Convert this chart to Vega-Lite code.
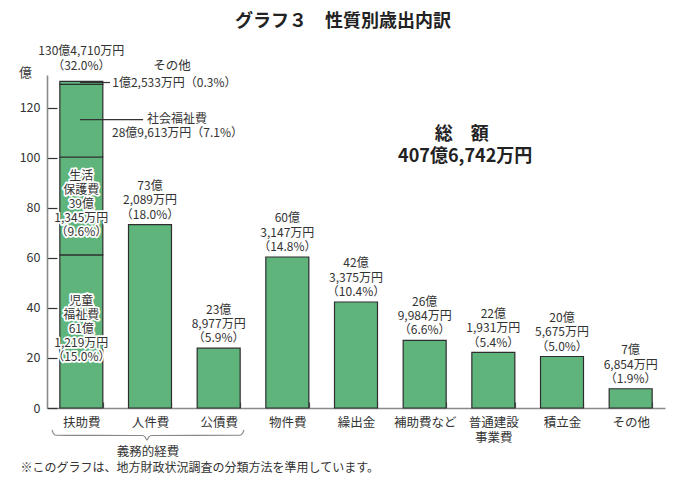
{
  "$schema": "https://vega.github.io/schema/vega-lite/v6.json",
  "width": 618,
  "height": 333,
  "autosize": {"type": "none"},
  "padding": {"left": 47, "top": 75, "right": 19, "bottom": 79},
  "background": "white",
  "config": {"font": "Noto Sans CJK JP", "view": {"stroke": null}},
  "datasets": {
    "bars": [
      {"cat": "扶助費", "seg": "児童福祉費", "ord": 1, "v": 61.1219, "inlab": "児童\n福祉費\n61億\n1,219万円\n（15.0%）"},
      {"cat": "扶助費", "seg": "生活保護費", "ord": 2, "v": 39.1345, "inlab": "生活\n保護費\n39億\n1,345万円\n（9.6%）"},
      {"cat": "扶助費", "seg": "社会福祉費", "ord": 3, "v": 28.9613, "inlab": ""},
      {"cat": "扶助費", "seg": "その他（扶助費）", "ord": 4, "v": 1.2533, "inlab": ""},
      {"cat": "人件費", "seg": "人件費", "ord": 1, "v": 73.2089, "inlab": ""},
      {"cat": "公債費", "seg": "公債費", "ord": 1, "v": 23.8977, "inlab": ""},
      {"cat": "物件費", "seg": "物件費", "ord": 1, "v": 60.3147, "inlab": ""},
      {"cat": "繰出金", "seg": "繰出金", "ord": 1, "v": 42.3375, "inlab": ""},
      {"cat": "補助費など", "seg": "補助費など", "ord": 1, "v": 26.9984, "inlab": ""},
      {"cat": "普通建設事業費", "seg": "普通建設事業費", "ord": 1, "v": 22.1931, "inlab": ""},
      {"cat": "積立金", "seg": "積立金", "ord": 1, "v": 20.5675, "inlab": ""},
      {"cat": "その他", "seg": "その他", "ord": 1, "v": 7.6854, "inlab": ""}
    ],
    "topFujo": [
      {"cat": "扶助費", "total": 130.471, "lab": "130億4,710万円\n（32.0%）"}
    ],
    "tops": [
      {"cat": "人件費", "total": 73.2089, "lab": "73億\n2,089万円\n（18.0%）"},
      {"cat": "公債費", "total": 23.8977, "lab": "23億\n8,977万円\n（5.9%）"},
      {"cat": "物件費", "total": 60.3147, "lab": "60億\n3,147万円\n（14.8%）"},
      {"cat": "繰出金", "total": 42.3375, "lab": "42億\n3,375万円\n（10.4%）"},
      {"cat": "補助費など", "total": 26.9984, "lab": "26億\n9,984万円\n（6.6%）"},
      {"cat": "普通建設事業費", "total": 22.1931, "lab": "22億\n1,931万円\n（5.4%）"},
      {"cat": "積立金", "total": 20.5675, "lab": "20億\n5,675万円\n（5.0%）"},
      {"cat": "その他", "total": 7.6854, "lab": "7億\n6,854万円\n（1.9%）"}
    ],
    "leaders": [
      {"x": 0.48, "x2": 0.917, "y": 130},
      {"x": 0.48, "x2": 1.40, "y": 115.2}
    ],
    "leftText": [
      {"x": 0.95, "y": 130, "t": "1億2,533万円（0.3%）"},
      {"x": 1.456, "y": 115.4, "t": "社会福祉費"},
      {"x": 0.947, "y": 109.8, "t": "28億9,613万円（7.1%）"}
    ],
    "midText": [
      {"x": 1.82, "y": 136.6, "t": "その他"},
      {"x": 1.47, "y": -17.6, "t": "義務的経費"}
    ],
    "boldText": [
      {"x": 6.04, "y": 109, "t": "総　額"},
      {"x": 6.09, "y": 100.2, "t": "407億6,742万円"},
      {"x": 4.31, "y": 154.2, "t": "グラフ３　性質別歳出内訳"}
    ],
    "brace": [
      {"x": 0.073, "y": -8.8},
      {"x": 0.095, "y": -10.2},
      {"x": 0.14, "y": -10.9},
      {"x": 1.39, "y": -11},
      {"x": 1.43, "y": -11.6},
      {"x": 1.456, "y": -12.8},
      {"x": 1.482, "y": -11.6},
      {"x": 1.52, "y": -11},
      {"x": 2.80, "y": -10.9},
      {"x": 2.845, "y": -10.2},
      {"x": 2.869, "y": -8.8}
    ]
  },
  "layer": [
    {
      "layer": [
        {
          "data": {"name": "bars"},
          "mark": {"type": "bar", "fill": "#5eb47b", "stroke": "#2e2e2e", "strokeWidth": 1.2, "clip": false},
          "encoding": {
            "x": {
              "field": "cat", "type": "nominal",
              "scale": {"domain": ["扶助費", "人件費", "公債費", "物件費", "繰出金", "補助費など", "普通建設事業費", "積立金", "その他"], "paddingInner": 0.374, "paddingOuter": 0.187},
              "axis": {
                "title": "※このグラフは、地方財政状況調査の分類方法を準用しています。",
                "titleX": -27, "titleY": 59, "titleAlign": "left", "titleBaseline": "middle",
                "titleFontSize": 12, "titleFontWeight": "normal", "titleColor": "#333", "titleFont": "Noto Sans CJK JP",
                "labelAngle": 0, "labelFontSize": 12.5, "labelColor": "#333", "labelPadding": 14, "labelFont": "Noto Sans CJK JP",
                "labelExpr": "datum.label == '普通建設事業費' ? ['普通建設','事業費'] : datum.label",
                "labelLineHeight": 15,
                "tickBand": "extent", "tickSize": -6, "tickColor": "#555", "tickWidth": 1.2,
                "domainColor": "#8a8a8a", "domainWidth": 1.6
              }
            },
            "y": {
              "field": "v", "type": "quantitative", "stack": "zero",
              "scale": {"domain": [0, 133]},
              "axis": {
                "title": "億", "titleAngle": 0, "titleX": -22, "titleY": -3, "titleAlign": "center", "titleBaseline": "middle",
                "titleFontSize": 13, "titleFontWeight": "normal", "titleColor": "#333", "titleFont": "Noto Sans CJK JP",
                "values": [0, 20, 40, 60, 80, 100, 120], "grid": false,
                "domainColor": "#8a8a8a", "domainWidth": 1.6,
                "tickColor": "#333", "tickSize": -10, "tickWidth": 1.2,
                "labelPadding": 17, "labelFontSize": 12.5, "labelColor": "#333", "labelFont": "Noto Sans CJK JP"
              }
            },
            "order": {"field": "ord", "type": "quantitative"}
          }
        },
        {
          "data": {"name": "bars"},
          "mark": {"type": "text", "lineBreak": "\n", "lineHeight": 14, "fontSize": 12, "baseline": "middle", "dy": -30, "stroke": "white", "strokeWidth": 3.5, "strokeJoin": "round", "fill": "white", "clip": false},
          "encoding": {
            "x": {"field": "cat", "type": "nominal", "scale": {"domain": ["扶助費", "人件費", "公債費", "物件費", "繰出金", "補助費など", "普通建設事業費", "積立金", "その他"], "paddingInner": 0.374, "paddingOuter": 0.187}},
            "y": {"field": "v", "type": "quantitative", "stack": "zero", "bandPosition": 0.5, "scale": {"domain": [0, 133]}},
            "order": {"field": "ord", "type": "quantitative"},
            "text": {"field": "inlab", "type": "nominal"}
          }
        },
        {
          "data": {"name": "bars"},
          "mark": {"type": "text", "lineBreak": "\n", "lineHeight": 14, "fontSize": 12, "baseline": "middle", "dy": -30, "color": "#333", "clip": false},
          "encoding": {
            "x": {"field": "cat", "type": "nominal", "scale": {"domain": ["扶助費", "人件費", "公債費", "物件費", "繰出金", "補助費など", "普通建設事業費", "積立金", "その他"], "paddingInner": 0.374, "paddingOuter": 0.187}},
            "y": {"field": "v", "type": "quantitative", "stack": "zero", "bandPosition": 0.5, "scale": {"domain": [0, 133]}},
            "order": {"field": "ord", "type": "quantitative"},
            "text": {"field": "inlab", "type": "nominal"}
          }
        },
        {
          "data": {"name": "tops"},
          "mark": {"type": "text", "lineBreak": "\n", "lineHeight": 14.3, "fontSize": 12, "baseline": "bottom", "dy": -31.5, "color": "#333", "clip": false},
          "encoding": {
            "x": {"field": "cat", "type": "nominal", "scale": {"domain": ["扶助費", "人件費", "公債費", "物件費", "繰出金", "補助費など", "普通建設事業費", "積立金", "その他"], "paddingInner": 0.374, "paddingOuter": 0.187}},
            "y": {"field": "total", "type": "quantitative", "scale": {"domain": [0, 133]}},
            "text": {"field": "lab", "type": "nominal"}
          }
        },
        {
          "data": {"name": "topFujo"},
          "mark": {"type": "text", "lineBreak": "\n", "lineHeight": 14.5, "fontSize": 12, "baseline": "bottom", "dy": -23, "color": "#333", "clip": false},
          "encoding": {
            "x": {"field": "cat", "type": "nominal", "scale": {"domain": ["扶助費", "人件費", "公債費", "物件費", "繰出金", "補助費など", "普通建設事業費", "積立金", "その他"], "paddingInner": 0.374, "paddingOuter": 0.187}},
            "y": {"field": "total", "type": "quantitative", "scale": {"domain": [0, 133]}},
            "text": {"field": "lab", "type": "nominal"}
          }
        }
      ]
    },
    {
      "layer": [
        {
          "data": {"name": "leaders"},
          "mark": {"type": "rule", "color": "#333", "strokeWidth": 1.2, "clip": false},
          "encoding": {
            "x": {"field": "x", "type": "quantitative", "scale": {"domain": [0, 9]}, "axis": null},
            "x2": {"field": "x2"},
            "y": {"field": "y", "type": "quantitative", "scale": {"domain": [0, 133]}}
          }
        },
        {
          "data": {"name": "brace"},
          "mark": {"type": "line", "color": "#888", "strokeWidth": 1.1, "interpolate": "monotone", "clip": false},
          "encoding": {
            "x": {"field": "x", "type": "quantitative", "scale": {"domain": [0, 9]}, "axis": null},
            "y": {"field": "y", "type": "quantitative", "scale": {"domain": [0, 133]}}
          }
        },
        {
          "data": {"name": "leftText"},
          "mark": {"type": "text", "align": "left", "baseline": "middle", "fontSize": 12, "color": "#333", "clip": false},
          "encoding": {
            "x": {"field": "x", "type": "quantitative", "scale": {"domain": [0, 9]}, "axis": null},
            "y": {"field": "y", "type": "quantitative", "scale": {"domain": [0, 133]}},
            "text": {"field": "t", "type": "nominal"}
          }
        },
        {
          "data": {"name": "midText"},
          "mark": {"type": "text", "align": "center", "baseline": "middle", "fontSize": 12.5, "color": "#333", "clip": false},
          "encoding": {
            "x": {"field": "x", "type": "quantitative", "scale": {"domain": [0, 9]}, "axis": null},
            "y": {"field": "y", "type": "quantitative", "scale": {"domain": [0, 133]}},
            "text": {"field": "t", "type": "nominal"}
          }
        },
        {
          "data": {"name": "boldText"},
          "mark": {"type": "text", "align": "center", "baseline": "middle", "fontSize": 18, "fontWeight": "bold", "color": "#222", "clip": false},
          "encoding": {
            "x": {"field": "x", "type": "quantitative", "scale": {"domain": [0, 9]}, "axis": null},
            "y": {"field": "y", "type": "quantitative", "scale": {"domain": [0, 133]}},
            "text": {"field": "t", "type": "nominal"}
          }
        }
      ]
    }
  ],
  "resolve": {"scale": {"x": "independent"}}
}
